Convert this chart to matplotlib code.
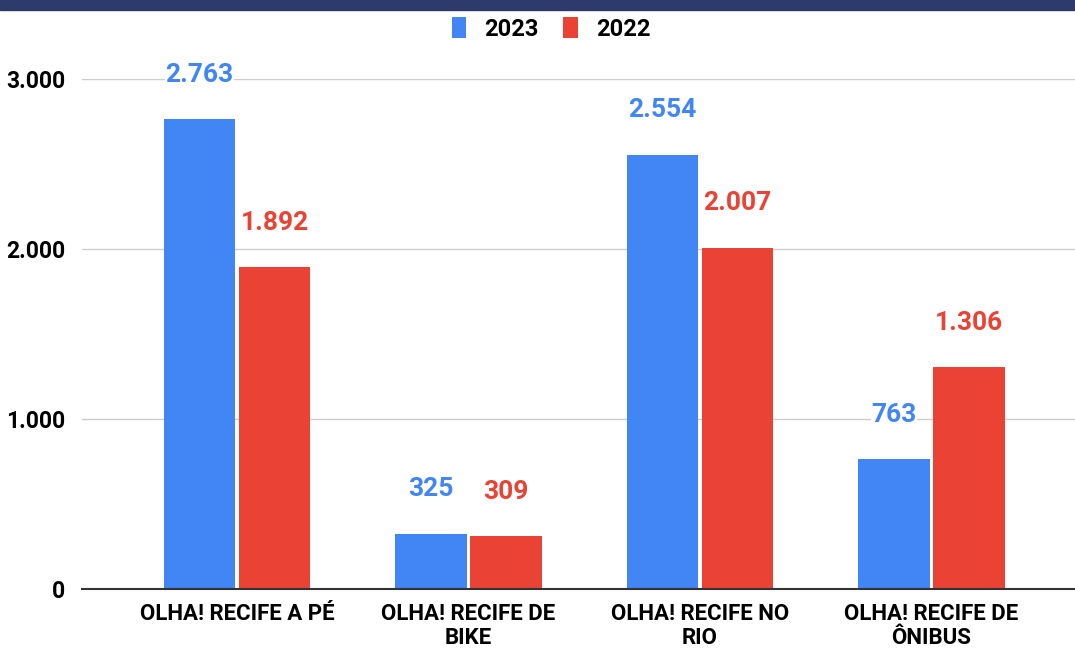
import numpy as np
import matplotlib
matplotlib.use("Agg")
import matplotlib.pyplot as plt
from matplotlib.patches import Rectangle
from matplotlib.ticker import FuncFormatter

# ---------------------------
# DATA
# ---------------------------
categories = ["OLHA! RECIFE A PÉ", "OLHA! RECIFE DE\nBIKE",
              "OLHA! RECIFE NO\nRIO", "OLHA! RECIFE DE\nÔNIBUS"]
values_2023 = [2763, 325, 2554, 763]
values_2022 = [1892, 309, 2007, 1306]
series_names = ["2023", "2022"]

BLUE = "#4285F4"
RED = "#EA4335"
NAVY = "#2d3a6b"

plt.rcParams['font.family'] = ['Roboto', 'DejaVu Sans']


def fmt_br(v, pos=None):
    # brazilian thousands separator
    return f"{int(v):,}".replace(",", ".")


fig = plt.figure(figsize=(10.75, 6.48), dpi=100)
ax = fig.add_axes([82 / 1075, 59 / 648, 993 / 1075, 510 / 648])

x = np.arange(len(categories))
w = 0.31
off = 0.162
b1 = ax.bar(x - off, values_2023, w, color=BLUE, label=series_names[0], zorder=3)
b2 = ax.bar(x + off, values_2022, w, color=RED, label=series_names[1], zorder=3)

for bars, vals, col in [(b1, values_2023, BLUE), (b2, values_2022, RED)]:
    for rect, v in zip(bars, vals):
        ax.annotate(fmt_br(v), (rect.get_x() + rect.get_width() / 2, v),
                    xytext=(0, 32), textcoords="offset points",
                    ha="center", va="center", fontsize=19, fontweight="bold",
                    color=col, zorder=4,
                    bbox=dict(facecolor="white", edgecolor="none", pad=0.5))

ax.set_xlim(-0.67, 3.62)
ax.set_ylim(0, 3000)
ax.set_yticks([0, 1000, 2000, 3000])
ax.yaxis.set_major_formatter(FuncFormatter(fmt_br))
ax.set_xticks(x)
ax.set_xticklabels(categories, fontsize=16, fontweight="bold", linespacing=1.1)
ax.tick_params(axis="y", length=0, pad=12, labelsize=16.5)
ax.tick_params(axis="x", length=0, pad=10)
for lbl in ax.get_yticklabels():
    lbl.set_fontweight("bold")

ax.grid(axis="y", color="#cccccc", linewidth=1, zorder=0)
for s in ["top", "right", "left"]:
    ax.spines[s].set_visible(False)
ax.spines["bottom"].set_color("#333333")
ax.spines["bottom"].set_linewidth(1.5)
ax.spines["bottom"].set_zorder(5)

fig.legend(loc="center", bbox_to_anchor=(551 / 1075, 1 - 29 / 648),
           ncol=2, frameon=False, prop={"size": 17, "weight": "bold"},
           handlelength=0.62, handleheight=0.95, columnspacing=1.05,
           handletextpad=0.75)

# navy strip on top
fig.patches.append(Rectangle((0, 1 - 10 / 648), 1, 10 / 648,
                             transform=fig.transFigure, color=NAVY, zorder=10))

fig.savefig("out.png", dpi=100)
